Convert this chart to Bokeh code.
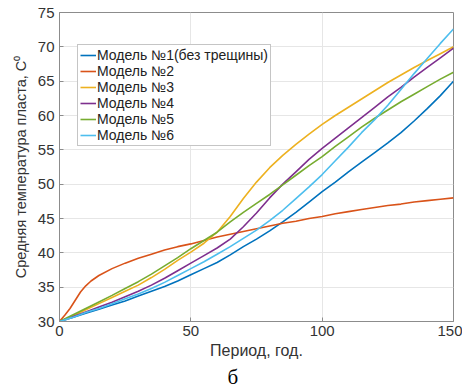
from bokeh.plotting import figure
from bokeh.models import Legend, LegendItem, Range1d, FixedTicker, Title
from bokeh.embed import file_html
from bokeh.resources import INLINE

years = [0, 5, 10, 15, 20, 25, 30, 35, 40, 45, 50, 55, 60, 65, 70, 75, 80,
         85, 90, 95, 100, 105, 110, 115, 120, 125, 130, 135, 140, 145, 150]
years_m2 = [0, 2, 4, 6, 8, 10, 12, 15, 20, 25, 30, 35, 40, 45, 50, 55, 60, 65,
            70, 75, 80, 85, 90, 95, 100, 105, 110, 115, 120, 125, 130, 135, 140, 145, 150]

model1 = [30, 30.6, 31.2, 31.8, 32.4, 33.0, 33.7, 34.4, 35.1, 35.9, 36.8, 37.7, 38.6, 39.7,
          40.9, 42.0, 43.2, 44.5, 45.9, 47.4, 48.9, 50.3, 51.8, 53.2, 54.6, 56.0, 57.5,
          59.2, 61.0, 62.9, 65.0]
model2 = [30, 30.9, 31.9, 33.1, 34.3, 35.2, 35.9, 36.7, 37.7, 38.5, 39.2, 39.8, 40.4, 40.9,
          41.3, 41.8, 42.3, 42.7, 43.1, 43.5, 43.9, 44.3, 44.6, 45.0, 45.3, 45.7, 46.0,
          46.3, 46.6, 46.9, 47.1, 47.4, 47.6, 47.8, 48.0]
model3 = [30, 30.8, 31.7, 32.6, 33.5, 34.4, 35.3, 36.4, 37.6, 38.9, 40.1, 41.4, 43.0, 45.3,
          47.9, 50.3, 52.4, 54.2, 55.8, 57.3, 58.7, 60.0, 61.2, 62.4, 63.6, 64.8, 65.9,
          67.0, 68.0, 69.0, 70.0]
model4 = [30, 30.7, 31.4, 32.1, 32.8, 33.6, 34.4, 35.3, 36.3, 37.4, 38.5, 39.6, 40.7, 42.0,
          43.8, 45.8, 48.0, 50.0, 51.8, 53.6, 55.2, 56.7, 58.2, 59.7, 61.2, 62.7, 64.1,
          65.6, 67.0, 68.4, 69.8]
model5 = [30, 30.95, 31.9, 32.85, 33.8, 34.8, 35.8, 36.9, 38.1, 39.3, 40.6, 41.8, 43.0, 44.5,
          45.9, 47.2, 48.5, 49.9, 51.3, 52.7, 54.0, 55.5, 56.9, 58.3, 59.6, 60.8, 62.0,
          63.1, 64.2, 65.3, 66.3]
model6 = [30, 30.6, 31.3, 31.9, 32.6, 33.3, 34.0, 34.8, 35.7, 36.7, 37.7, 38.7, 39.8, 40.9,
          42.1, 43.3, 44.7, 46.2, 47.9, 49.6, 51.4, 53.4, 55.4, 57.5, 59.4, 61.5, 63.8,
          66.1, 68.3, 70.5, 72.6]

labels = ["Модель №1(без трещины)", "Модель №2", "Модель №3",
          "Модель №4", "Модель №5", "Модель №6"]
colors = ["#0072BD", "#D95319", "#EDB120", "#7E2F8E", "#77AC30", "#4DBEEE"]
x_ticks = [0, 50, 100, 150]
y_ticks = [30, 35, 40, 45, 50, 55, 60, 65, 70, 75]

FONT = "Liberation Sans"
GRAY = "#8c8c8c"
TXT = "#333333"

p = figure(width=462, height=390, output_backend="svg", toolbar_location=None,
           x_range=Range1d(0, 150), y_range=Range1d(30, 75),
           min_border_left=59, min_border_right=9, min_border_top=12, min_border_bottom=69)
p.background_fill_color = "white"
p.border_fill_color = "white"
p.outline_line_color = GRAY

series = [(years, model1), (years_m2, model2), (years, model3),
          (years, model4), (years, model5), (years, model6)]
items = []
for (xs, ys), lab, col in zip(series, labels, colors):
    r = p.line(xs, ys, line_color=col, line_width=1.6)
    items.append(LegendItem(label=lab, renderers=[r]))

for ax in (p.xaxis[0], p.yaxis[0]):
    ax.major_tick_in = 4
    ax.major_tick_out = 0
    ax.minor_tick_line_color = None
    ax.axis_line_color = GRAY
    ax.major_tick_line_color = GRAY
    ax.major_label_text_font = FONT
    ax.major_label_text_font_size = "15px"
    ax.major_label_text_color = TXT
    ax.axis_label_text_font = FONT
    ax.axis_label_text_font_style = "normal"
    ax.axis_label_text_color = TXT

p.xaxis.ticker = FixedTicker(ticks=x_ticks)
p.yaxis.ticker = FixedTicker(ticks=y_ticks)
p.xaxis.axis_label = "Период, год."
p.yaxis.axis_label = "Средняя температура пласта, C⁰"
p.xaxis.axis_label_text_font_size = "16px"
p.yaxis.axis_label_text_font_size = "14.5px"
p.xaxis.major_label_standoff = 4
p.yaxis.major_label_standoff = 5
p.xaxis.axis_label_standoff = 3
p.yaxis.axis_label_standoff = 6

p.grid.grid_line_color = "#e6e6e6"
p.grid.grid_line_width = 1
p.xgrid.ticker = FixedTicker(ticks=x_ticks)
p.ygrid.ticker = FixedTicker(ticks=y_ticks)

legend = Legend(items=items, location=(18, 175))
legend.label_text_font = FONT
legend.label_text_font_size = "14px"
legend.label_text_color = "#222222"
legend.glyph_width = 16
legend.glyph_height = 16
legend.label_height = 16
legend.label_standoff = 1
legend.spacing = 0
legend.padding = 2
legend.margin = 0
legend.border_line_color = GRAY
legend.border_line_width = 1
legend.background_fill_color = "white"
legend.background_fill_alpha = 1
p.add_layout(legend)

p.add_layout(Title(text="б", align="left", offset=168, standoff=2, text_font="Liberation Serif",
                   text_font_size="21px", text_font_style="normal", text_color="black"), "below")

open("out.html", "w").write(file_html(p, INLINE))
